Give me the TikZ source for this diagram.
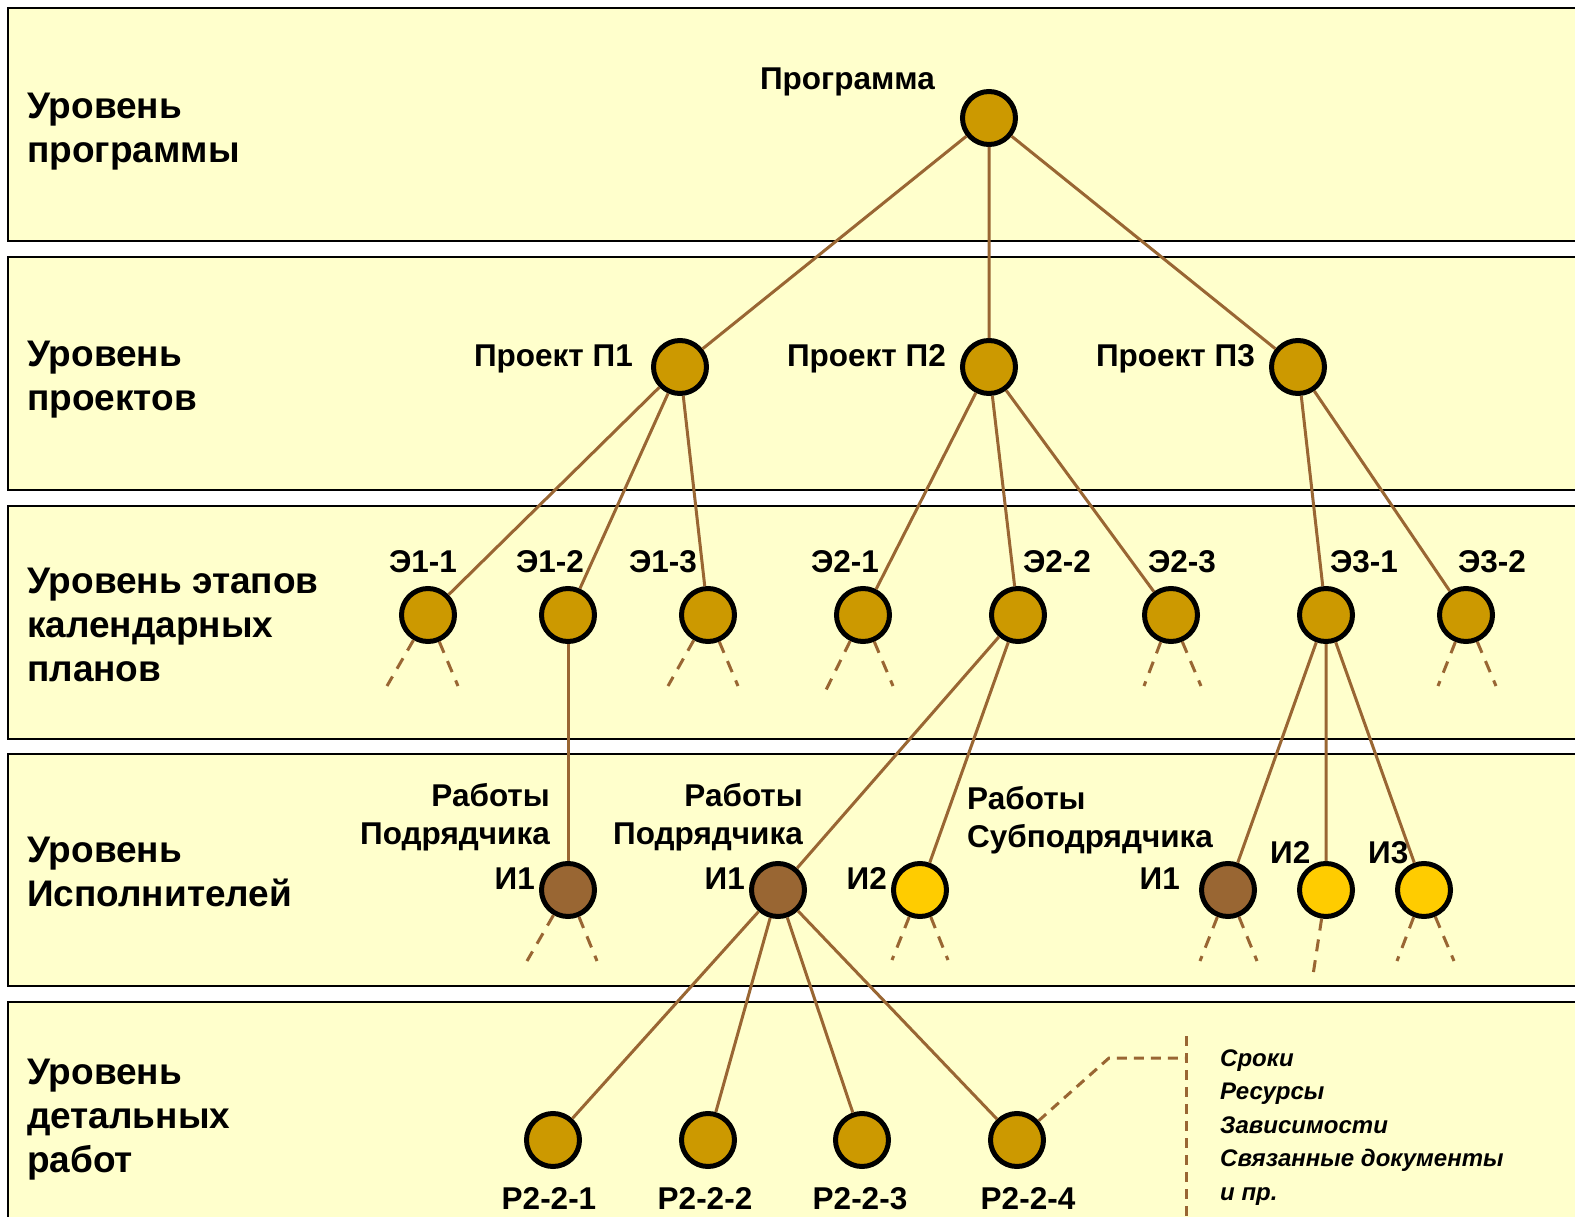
\documentclass[tikz,border=0pt]{standalone}
\usepackage{fontspec}
\setmainfont{Liberation Sans}
\definecolor{bandfill}{HTML}{FFFFCC}
\definecolor{gold}{HTML}{CC9900}
\definecolor{bark}{HTML}{996633}
\definecolor{sun}{HTML}{FFCC00}
\begin{document}
\begin{tikzpicture}[x=1pt,y=-1pt,
  band/.style={draw=black,line width=2pt,fill=bandfill},
  lvl/.style={anchor=west,align=left,inner sep=0pt,
    font=\fontsize{37}{44}\selectfont\bfseries},
  vtx/.style={circle,draw=black,line width=5pt,minimum size=53pt,inner sep=0pt,fill=gold},
  contr/.style={vtx,fill=bark},
  subc/.style={vtx,fill=sun},
  lbl/.style={inner sep=0pt,font=\fontsize{31.5}{37.5}\selectfont\bfseries},
  note/.style={inner sep=0pt,align=left,font=\fontsize{24}{33.5}\selectfont\bfseries\itshape},
  link/.style={draw=bark,line width=3pt},
  stub/.style={draw=bark,line width=3pt,dash pattern=on 12pt off 9pt},
  lead/.style={draw=bark,line width=3pt,dash pattern=on 10pt off 7pt}]
\useasboundingbox (0,0) rectangle (1575,1217);

% level bands
\path[band] (8,8) rectangle (1600,241);
\path[band] (8,257) rectangle (1600,490);
\path[band] (8,506) rectangle (1600,739);
\path[band] (8,754) rectangle (1600,986);
\path[band] (8,1002) rectangle (1600,1260);

\node[lvl] (l1) at (27,132) {Уровень\\программы};
\node[lvl] (l2) at (27,380) {Уровень\\проектов};
\node[lvl] (l3) at (27,625) {Уровень этапов\\календарных\\планов};
\node[lvl] (l4) at (27,872) {Уровень\\Исполнителей};
\node[lvl] (l5) at (27,1120) {Уровень\\детальных\\работ};

% end points of the dashed stubs
\coordinate (s11a) at (387,686); \coordinate (s11b) at (458,686);
\coordinate (s13a) at (668,686); \coordinate (s13b) at (738,686);
\coordinate (s21a) at (825,692); \coordinate (s21b) at (893,686);
\coordinate (s23a) at (1144,686); \coordinate (s23b) at (1201,686);
\coordinate (s32a) at (1438,686); \coordinate (s32b) at (1496,686);
\coordinate (sIaA) at (527,961); \coordinate (sIaB) at (597,961);
\coordinate (sIbA) at (892,960); \coordinate (sIbB) at (948,960);
\coordinate (sIcA) at (1200,961); \coordinate (sIcB) at (1257,961);
\coordinate (sIdA) at (1313,975);
\coordinate (sIeA) at (1397,961); \coordinate (sIeB) at (1454,961);
\coordinate (bend) at (1109,1058);
\coordinate (bar) at (1186,1058);
\coordinate (barT) at (1186,1036);
\coordinate (barB) at (1186,1217);

% vertices
\node[vtx] (prog) at (989,118) {};
\node[vtx] (p1) at (680,367) {};
\node[vtx] (p2) at (989,367) {};
\node[vtx] (p3) at (1298,367) {};
\node[vtx] (e11) at (428,615) {};
\node[vtx] (e12) at (568,615) {};
\node[vtx] (e13) at (708,615) {};
\node[vtx] (e21) at (863,615) {};
\node[vtx] (e22) at (1018,615) {};
\node[vtx] (e23) at (1171,615) {};
\node[vtx] (e31) at (1326,615) {};
\node[vtx] (e32) at (1466,615) {};
\node[contr] (ia) at (568,890) {};
\node[contr] (ib) at (778,890) {};
\node[subc] (ic) at (920,890) {};
\node[contr] (id) at (1228,890) {};
\node[subc] (ie) at (1326,890) {};
\node[subc] (if) at (1424,890) {};
\node[vtx] (r1) at (553,1140) {};
\node[vtx] (r2) at (708,1140) {};
\node[vtx] (r3) at (862,1140) {};
\node[vtx] (r4) at (1017,1140) {};

% tree links
\path[link] (prog) -- (p1) (prog) -- (p2) (prog) -- (p3);
\path[link] (p1) -- (e11) (p1) -- (e12) (p1) -- (e13);
\path[link] (p2) -- (e21) (p2) -- (e22) (p2) -- (e23);
\path[link] (p3) -- (e31) (p3) -- (e32);
\path[link] (e12) -- (ia);
\path[link] (e22) -- (ib) (e22) -- (ic);
\path[link] (e31) -- (id) (e31) -- (ie) (e31) -- (if);
\path[link] (ib) -- (r1) (ib) -- (r2) (ib) -- (r3) (ib) -- (r4);

% dashed stubs to lower levels
\path[stub] (e11) -- (s11a) (e11) -- (s11b);
\path[stub] (e13) -- (s13a) (e13) -- (s13b);
\path[stub] (e21) -- (s21a) (e21) -- (s21b);
\path[stub] (e23) -- (s23a) (e23) -- (s23b);
\path[stub] (e32) -- (s32a) (e32) -- (s32b);
\path[stub] (ia) -- (sIaA) (ia) -- (sIaB);
\path[stub] (ic) -- (sIbA) (ic) -- (sIbB);
\path[stub] (id) -- (sIcA) (id) -- (sIcB);
\path[stub] (ie) -- (sIdA);
\path[stub] (if) -- (sIeA) (if) -- (sIeB);

% leader to the attribute list
\path[lead] (r4) -- (bend) -- (bar);
\path[lead] (barT) -- (barB);

% labels
\node[lbl,anchor=base east] (tprog) at (935,90) {Программа};
\node[lbl,anchor=base east] (tp1) at (633,366) {Проект П1};
\node[lbl,anchor=base east] (tp2) at (946,366) {Проект П2};
\node[lbl,anchor=base east] (tp3) at (1255,366) {Проект П3};
\node[lbl,anchor=base] (te11) at (423,572) {Э1-1};
\node[lbl,anchor=base] (te12) at (550,572) {Э1-2};
\node[lbl,anchor=base] (te13) at (663,572) {Э1-3};
\node[lbl,anchor=base] (te21) at (845,572) {Э2-1};
\node[lbl,anchor=base] (te22) at (1057,572) {Э2-2};
\node[lbl,anchor=base] (te23) at (1182,572) {Э2-3};
\node[lbl,anchor=base] (te31) at (1364,572) {Э3-1};
\node[lbl,anchor=base] (te32) at (1492,572) {Э3-2};
\node[lbl,anchor=base east,align=right] (twa) at (550,844) {Работы\\Подрядчика};
\node[lbl,anchor=base east,align=right] (twb) at (803,844) {Работы\\Подрядчика};
\node[lbl,anchor=base west,align=left] (twc) at (967,847) {Работы\\Субподрядчика};
\node[lbl,anchor=base east] (tia) at (535,889) {И1};
\node[lbl,anchor=base east] (tib) at (745,889) {И1};
\node[lbl,anchor=base east] (tic) at (887,889) {И2};
\node[lbl,anchor=base east] (tid) at (1180,889) {И1};
\node[lbl,anchor=base west] (tie) at (1270,863) {И2};
\node[lbl,anchor=base west] (tif) at (1368,863) {И3};
\node[lbl,anchor=base] (tr1) at (549,1209) {Р2-2-1};
\node[lbl,anchor=base] (tr2) at (705,1209) {Р2-2-2};
\node[lbl,anchor=base] (tr3) at (860,1209) {Р2-2-3};
\node[lbl,anchor=base] (tr4) at (1028,1209) {Р2-2-4};
\node[note,anchor=base west] (attrs) at (1220,1200)
  {Сроки\\Ресурсы\\Зависимости\\Связанные документы\\и пр.};
\end{tikzpicture}
\end{document}
